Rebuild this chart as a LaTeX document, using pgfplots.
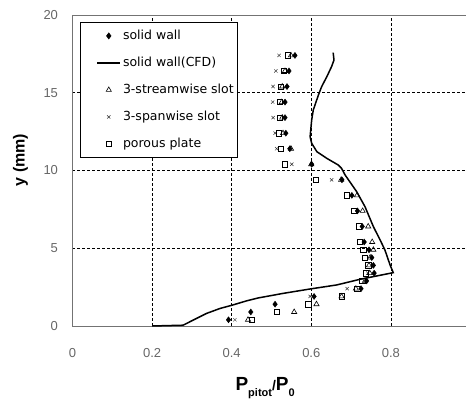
\documentclass[border=0pt]{standalone}
\usepackage{pgfplots}
\pgfplotsset{compat=1.18}
\usepackage{fontspec}
\setmainfont{Liberation Sans}
\newfontfamily\legfont{DejaVu Sans}
\begin{document}
\begin{tikzpicture}
\begin{axis}[
 scale only axis, width=394pt, height=311pt,
 xmin=0, xmax=0.99, ymin=0, ymax=20,
 axis x line*=box, axis y line*=left,
 axis line style={draw=black!55, line width=0.9pt},
 major tick length=0pt,
 xtick={0.2,0.4,0.6,0.8}, ytick={5,10,15},
 extra x ticks={0}, extra y ticks={0,20},
 extra tick style={grid=none},
 xticklabels={0.2,0.4,0.6,0.8},
 extra x tick labels={0},
 grid=major,
 major grid style={black, line width=0.6pt, dash pattern=on 2.5pt off 2.5pt},
 /pgf/number format/assume math mode=true,
 tick label style={font=\fontsize{13}{14}\selectfont, text=black!60},
 xticklabel style={yshift=-19pt},
 yticklabel style={xshift=-11pt},
 ylabel={y (mm)},
 every axis y label/.style={at={(rel axis cs:0,0.534)}, xshift=-52pt, rotate=90, anchor=center, font=\bfseries\fontsize{16}{17}\selectfont},
 xlabel={\bfseries\fontsize{19}{22}\selectfont P\raisebox{-0.3em}{\fontsize{11}{12}\selectfont pitot}{\fontsize{14}{14}\selectfont/}P\raisebox{-0.3em}{\fontsize{11}{12}\selectfont 0}},
 every axis x label/.style={at={(rel axis cs:0.489,0)}, yshift=-65pt, anchor=base},
 legend style={at={(rel axis cs:0.019,0.977)}, anchor=north west, draw=black, line width=0.6pt, fill=white,
   font=\legfont\fontsize{12.5}{14}\selectfont, row sep=12pt, inner xsep=2pt, inner ysep=6pt},
 legend cell align=left,
 legend image code/.code={\path[draw=none,fill=none] (0pt,0pt) -- (15pt,0pt); \draw[mark repeat=2,mark phase=2,#1] plot coordinates {(15pt,0pt) (26.5pt,0pt) (38pt,0pt)};},
 clip=false,
]
% solid wall
\addplot[only marks, mark=diamond*, mark size=3pt, black] coordinates {
(0.392,0.4)(0.448,0.9)(0.509,1.4)(0.607,1.9)(0.725,2.4)(0.739,2.9)(0.758,3.4)(0.756,3.9)(0.752,4.4)(0.745,4.9)(0.733,5.4)(0.728,6.4)(0.716,7.4)(0.702,8.4)(0.677,9.4)(0.601,10.4)(0.546,11.4)(0.536,12.4)(0.534,13.4)(0.534,14.4)(0.539,15.4)(0.544,16.4)(0.559,17.4)};
\addlegendentry{solid wall}
% CFD
\addplot[black, line width=1.5pt, mark=none] coordinates {
(0.200,0)(0.278,0.05)(0.304,0.39)(0.337,0.81)(0.371,1.13)(0.40,1.33)(0.438,1.62)(0.466,1.80)(0.530,2.1)(0.597,2.38)(0.664,2.64)(0.722,3.0)(0.806,3.43)(0.798,3.92)(0.785,4.89)(0.773,5.53)(0.756,6.39)(0.735,7.67)(0.714,8.64)(0.685,9.71)(0.676,10.14)(0.668,10.35)(0.639,10.78)(0.614,11.21)(0.601,11.75)(0.597,12.17)(0.601,13.25)(0.605,13.89)(0.618,14.86)(0.626,15.39)(0.639,16.03)(0.651,16.68)(0.657,17.1)(0.655,17.58)};
\addlegendentry{solid wall(CFD)}
% 3-streamwise slot
\addplot[only marks, mark=triangle, mark size=3pt, black, mark options={line width=0.6pt}] coordinates {
(0.441,0.4)(0.557,0.9)(0.613,1.4)(0.676,1.9)(0.712,2.4)(0.735,2.9)(0.747,3.4)(0.745,3.9)(0.748,4.4)(0.756,4.9)(0.753,5.4)(0.743,6.4)(0.729,7.4)(0.715,8.4)(0.675,9.4)(0.600,10.4)(0.549,11.4)(0.529,12.4)(0.527,13.4)(0.526,14.4)(0.527,15.4)(0.534,16.4)(0.549,17.4)};
\addlegendentry{3-streamwise slot}
% 3-spanwise slot
\addplot[only marks, mark=x, mark size=2.3pt, black!80, mark options={line width=0.5pt}] coordinates {
(0.408,0.4)(0.597,1.9)(0.690,2.4)(0.733,2.9)(0.742,3.4)(0.651,9.4)(0.551,10.4)(0.513,11.4)(0.509,12.4)(0.504,13.4)(0.503,14.4)(0.504,15.4)(0.511,16.4)(0.519,17.4)};
\addlegendentry{3-spanwise slot}
% porous plate
\addplot[only marks, mark=square, mark size=2.7pt, black, mark options={line width=0.6pt}] coordinates {
(0.451,0.4)(0.513,0.9)(0.593,1.4)(0.676,1.9)(0.716,2.4)(0.728,2.9)(0.737,3.4)(0.743,3.9)(0.735,4.4)(0.731,4.9)(0.722,5.4)(0.720,6.4)(0.707,7.4)(0.689,8.4)(0.611,9.4)(0.534,10.4)(0.524,11.4)(0.519,12.4)(0.521,13.4)(0.521,14.4)(0.524,15.4)(0.531,16.4)(0.541,17.4)};
\addlegendentry{porous plate}
\coordinate (bbl) at (rel axis cs:-0.184,-0.2347);
\coordinate (btr) at (rel axis cs:1.0013,1.0482);
\end{axis}
\pgfresetboundingbox
\path[use as bounding box] (bbl) rectangle (btr);
\end{tikzpicture}
\end{document}
